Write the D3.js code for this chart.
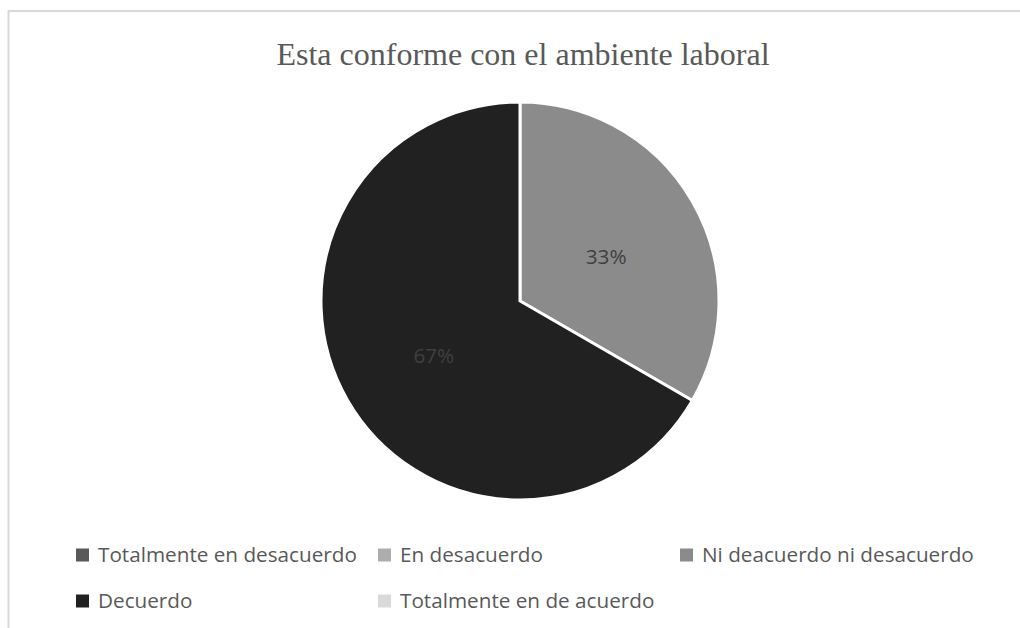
<!DOCTYPE html>
<html>
<head>
<meta charset="utf-8">
<script src="https://cdn.jsdelivr.net/npm/d3@7"></script>
<style>
  body { margin: 0; background: #fff; }
  svg { display: block; }
</style>
</head>
<body>
<div id="viz"></div>
<script>
const categories = [
  "Totalmente en desacuerdo",
  "En desacuerdo",
  "Ni deacuerdo ni desacuerdo",
  "Decuerdo",
  "Totalmente en de acuerdo",
];
const values = [0, 0, 1, 2, 0];
const colors = ["#595959", "#adadad", "#8b8b8b", "#212121", "#d9d9d9"];
const title = "Esta conforme con el ambiente laboral";

const width = 1020,
  height = 628;
const sans = "'Open Sans', 'Noto Sans', sans-serif";

const svg = d3
  .select("#viz")
  .append("svg")
  .attr("width", width)
  .attr("height", height);

// chart frame (cut off at right and bottom)
svg
  .append("rect")
  .attr("x", 8.5)
  .attr("y", 11)
  .attr("width", width)
  .attr("height", height)
  .attr("fill", "#fff")
  .attr("stroke", "#d9d9d9")
  .attr("stroke-width", 2);

svg
  .append("text")
  .attr("x", 523)
  .attr("y", 65)
  .attr("text-anchor", "middle")
  .attr("font-family", "'Liberation Serif', 'Times New Roman', serif")
  .attr("font-size", 32)
  .attr("fill", "#595959")
  .text(title);

// fit the sans font so the longest legend entry is as wide as in the original
let probe = svg
  .append("text")
  .attr("font-family", sans)
  .attr("font-size", 24)
  .text("Ni deacuerdo ni desacuerdo");
let fontSize = (24 * 272) / probe.node().getComputedTextLength();
probe.remove();

// pie
const cx = 520,
  cy = 301,
  r = 199;
const data = categories.map((d, i) => ({ name: d, value: values[i], color: colors[i] }));
const total = d3.sum(values);
const pie = d3.pie().sort(null).value((d) => d.value);
const arcs = pie(data).filter((d) => d.value > 0);
const arc = d3.arc().innerRadius(0).outerRadius(r);
const labelArc = d3.arc().innerRadius(r * 0.5).outerRadius(r * 0.5);

const g = svg.append("g").attr("transform", `translate(${cx},${cy})`);
g.selectAll("path")
  .data(arcs)
  .join("path")
  .attr("d", arc)
  .attr("fill", (d) => d.data.color)
  .attr("stroke", "#fff")
  .attr("stroke-width", 3);

g.selectAll("text")
  .data(arcs)
  .join("text")
  .attr("x", (d) => labelArc.centroid(d)[0])
  .attr("y", (d) => labelArc.centroid(d)[1])
  .attr("dy", "0.6em")
  .attr("text-anchor", "middle")
  .attr("font-family", sans)
  .attr("font-size", fontSize)
  .attr("fill", "#404040")
  .text((d) => d3.format(".0%")(d.value / total));

// legend, 3 per row
const colX = d3.scaleLinear().domain([0, 1]).range([76, 378]);
const rowY = d3.scaleLinear().domain([0, 1]).range([555, 601]);
const sq = 13;

const legend = svg
  .append("g")
  .selectAll("g")
  .data(data)
  .join("g")
  .attr("transform", (d, i) => `translate(${colX(i % 3)},${rowY(Math.floor(i / 3))})`);

legend
  .append("rect")
  .attr("x", 0)
  .attr("y", -sq / 2)
  .attr("width", sq)
  .attr("height", sq)
  .attr("fill", (d) => d.color);

legend
  .append("text")
  .attr("x", 22)
  .attr("dy", "0.36em")
  .attr("font-family", sans)
  .attr("font-size", fontSize)
  .attr("fill", "#595959")
  .text((d) => d.name);
</script>
</body>
</html>
